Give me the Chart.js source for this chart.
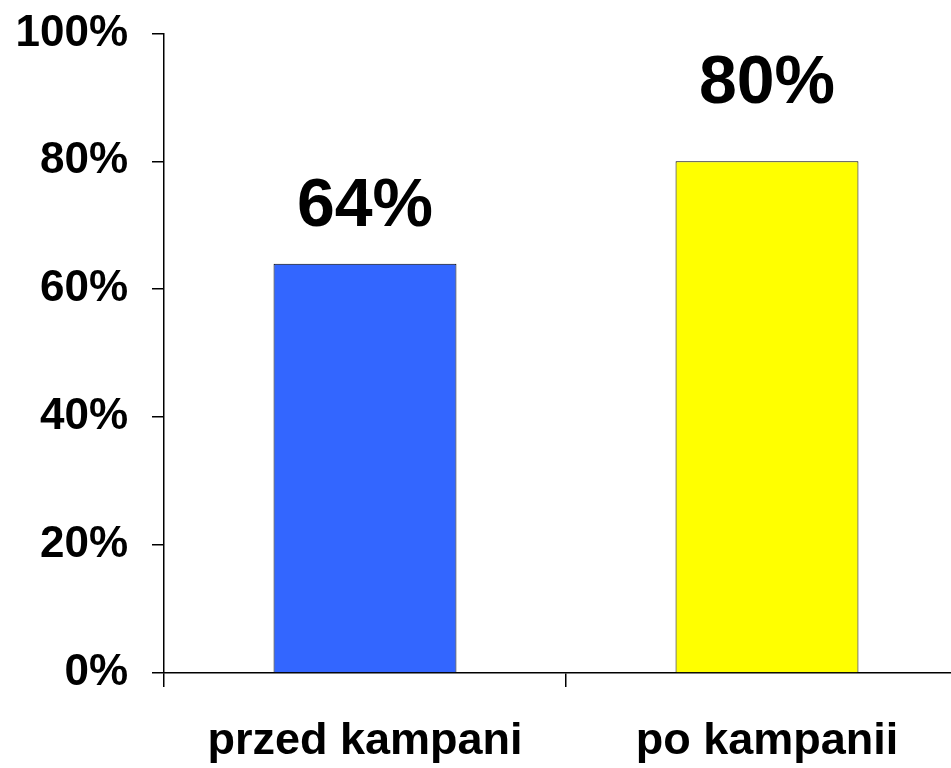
<!DOCTYPE html>
<html lang="pl">
<head>
    <meta charset="UTF-8">
    <title>Przed i po kampanii</title>
    <script src="https://cdn.jsdelivr.net/npm/chart.js"></script>
    <style>
        html, body {
            margin: 0;
            padding: 0;
            background: #ffffff;
            overflow: hidden;
        }
        /* the plot runs slightly past the right edge in the original,
           and the top tick sits closer to the top than Chart.js allows */
        .wrap {
            width: 968px;
            height: 785px;
            margin-top: -17px;
        }
    </style>
</head>
<body>
    <div class="wrap">
        <canvas id="chart"></canvas>
    </div>

    <script>
        // dane
        const categories = ['przed kampani', 'po kampanii'];
        const values = [64, 80];
        const barColors = ['#3366FF', '#FFFF00'];
        const yTicks = [0, 20, 40, 60, 80, 100];

        // etykiety wartości nad słupkami
        const valueLabels = {
            id: 'valueLabels',
            afterDatasetsDraw(chart, args, opts) {
                const ctx = chart.ctx;
                const meta = chart.getDatasetMeta(0);
                ctx.save();
                ctx.font = 'bold 68px "Liberation Sans", Arial, sans-serif';
                ctx.fillStyle = '#000';
                ctx.textAlign = 'center';
                ctx.textBaseline = 'middle';
                meta.data.forEach((bar, i) => {
                    const v = chart.data.datasets[0].data[i];
                    ctx.fillText(v + '%', bar.x, bar.y - opts.offsets[i]);
                });
                ctx.restore();
            }
        };

        new Chart(document.getElementById('chart'), {
            type: 'bar',
            data: {
                labels: categories,
                datasets: [{
                    data: values,
                    backgroundColor: barColors,
                    borderColor: '#000',
                    borderWidth: 1,
                    categoryPercentage: 0.455,
                    barPercentage: 1
                }]
            },
            options: {
                responsive: true,
                maintainAspectRatio: false,
                animation: false,
                layout: {
                    padding: { left: 0, right: 0, top: 0, bottom: 0 }
                },
                plugins: {
                    legend: { display: false },
                    tooltip: { enabled: false },
                    valueLabels: { offsets: [56, 77] }
                },
                scales: {
                    x: {
                        afterFit(scale) { scale.height = 95; },
                        grid: {
                            drawOnChartArea: false,
                            tickLength: 14,
                            color: '#000',
                            lineWidth: 1.5
                        },
                        border: { color: '#000', width: 1.5 },
                        ticks: {
                            color: '#000',
                            padding: 28,
                            font: { family: '"Liberation Sans", Arial, sans-serif', size: 45, weight: 'bold' }
                        }
                    },
                    y: {
                        min: 0,
                        max: 100,
                        afterFit(scale) { scale.width = 164; },
                        afterBuildTicks(scale) {
                            scale.ticks = yTicks.map(v => ({ value: v }));
                        },
                        grid: {
                            drawOnChartArea: false,
                            tickLength: 12,
                            color: '#000',
                            lineWidth: 1.5
                        },
                        border: { color: '#000', width: 1.5 },
                        ticks: {
                            color: '#000',
                            padding: 24,
                            font: { family: '"Liberation Sans", Arial, sans-serif', size: 44, weight: 'bold' },
                            callback: v => v + '%'
                        }
                    }
                }
            },
            plugins: [valueLabels]
        });
    </script>
</body>
</html>
